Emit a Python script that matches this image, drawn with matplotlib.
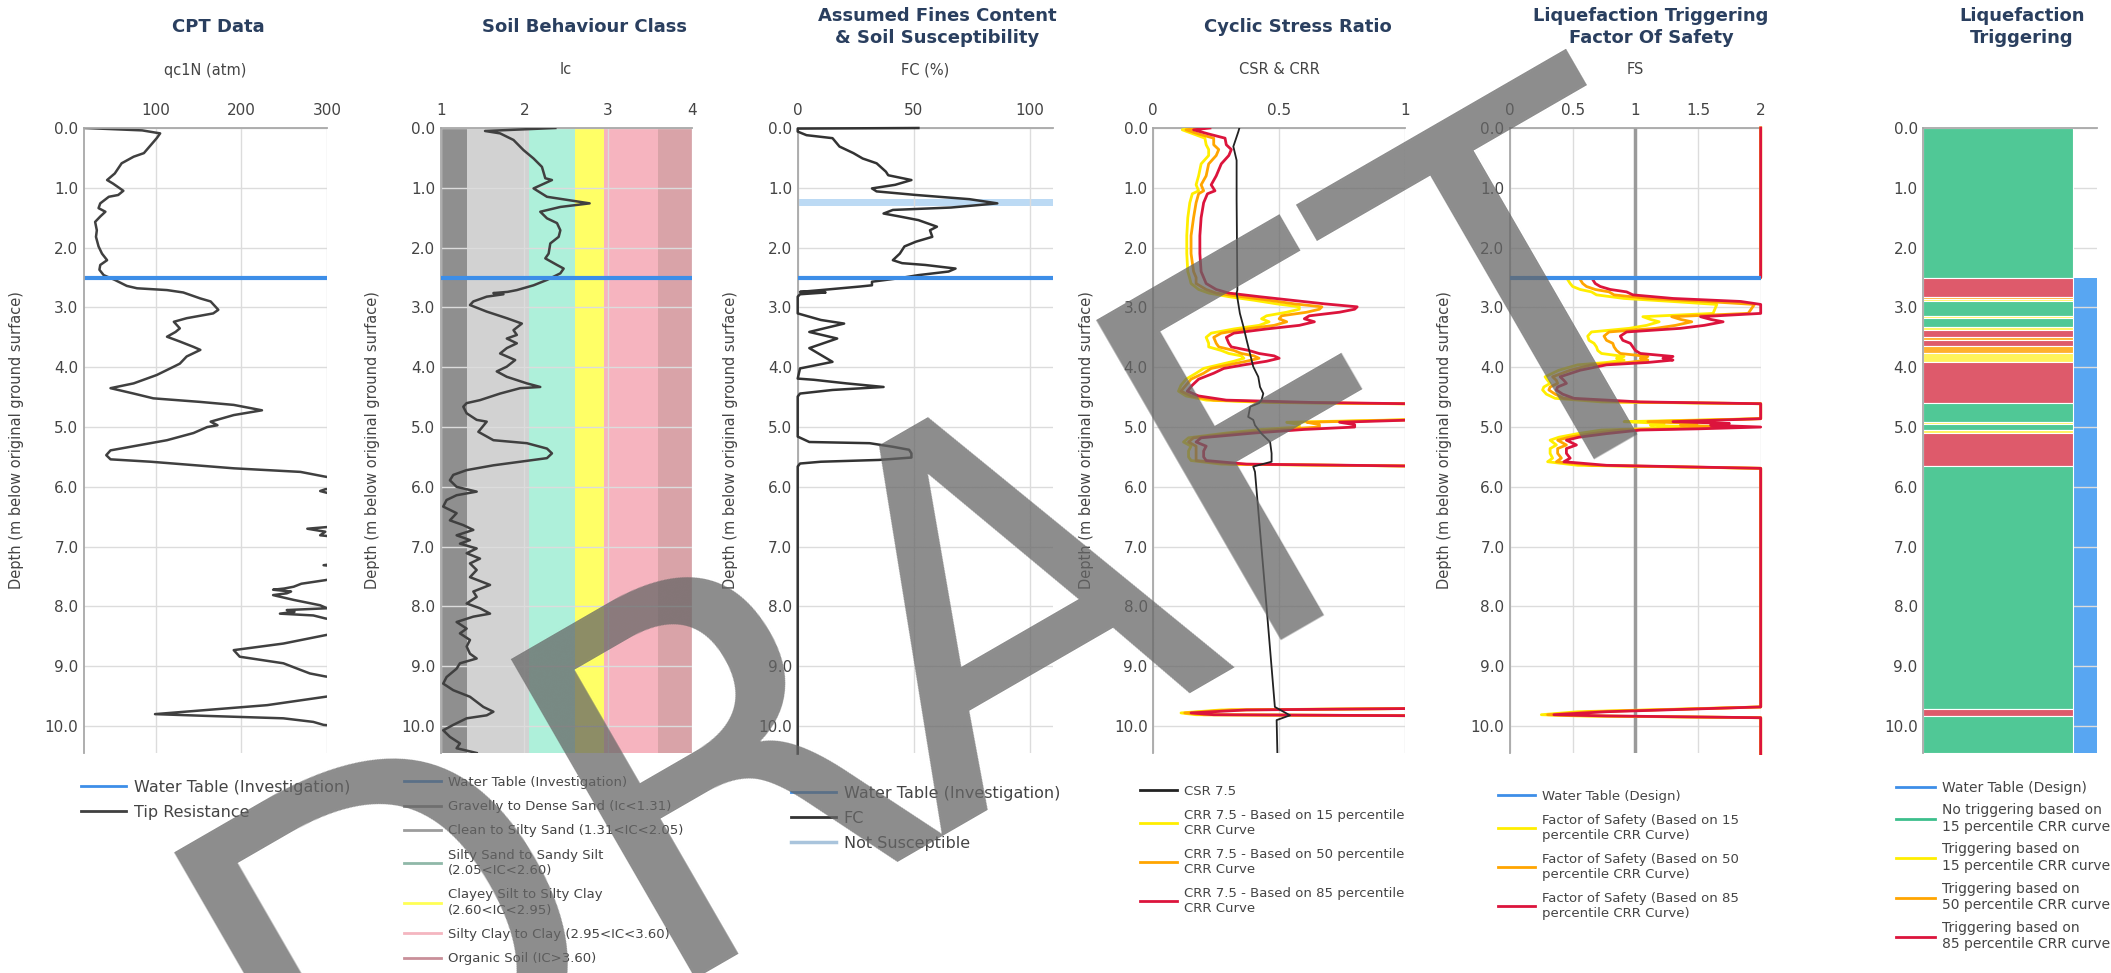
import numpy as np
import matplotlib.pyplot as plt
from matplotlib.lines import Line2D

W, H = 2111, 973
TITLE_C = '#2a3f5f'
TEXT_C = '#444444'
GRID_C = '#dcdcdc'
AXIS_C = '#a8a8a8'
WATER_C = '#3d8ee8'

# --- CPT tip resistance (normalised) ---
cpt_depth = [0.00, 0.04, 0.09, 0.17, 0.37, 0.42, 0.48, 0.59, 0.76, 0.87, 0.93, 1.05, 1.12, 1.15,
             1.26, 1.34, 1.40, 1.48, 1.57, 1.71, 1.82, 1.98, 2.10, 2.21, 2.29, 2.37, 2.46, 2.54,
             2.64, 2.68, 2.71, 2.75, 2.85, 2.90, 3.04, 3.10, 3.18, 3.24, 3.35, 3.41, 3.49, 3.57,
             3.66, 3.71, 3.82, 3.94, 3.99, 4.13, 4.27, 4.35, 4.44, 4.52, 4.58, 4.63, 4.72, 4.80,
             4.91, 4.97, 5.00, 5.10, 5.22, 5.30, 5.39, 5.47, 5.54, 5.58, 5.69, 5.75, 5.83, 5.92,
             6.00, 6.04, 6.07, 6.10, 6.18, 6.60, 6.70, 6.75, 6.81, 6.88, 7.25, 7.31, 7.36, 7.50,
             7.56, 7.62, 7.67, 7.70, 7.72, 7.75, 7.78, 7.81, 7.89, 7.98, 8.03, 8.06, 8.09, 8.12,
             8.15, 8.20, 8.28, 8.42, 8.48, 8.62, 8.73, 8.84, 8.95, 9.06, 9.12, 9.17, 9.25, 9.45,
             9.51, 9.65, 9.73, 9.80, 9.83, 9.87, 9.93, 9.98, 10.02, 10.45]
cpt_qc = [17, 84, 105, 101, 89, 86, 74, 60, 52, 43, 50, 62, 56, 45,
          35, 33, 41, 35, 29, 31, 30, 33, 37, 43, 35, 34, 39, 52,
          66, 78, 113, 132, 152, 164, 173, 167, 136, 121, 128, 123, 113, 128,
          144, 152, 136, 128, 121, 101, 74, 47, 74, 97, 152, 191, 224, 191,
          164, 172, 160, 144, 113, 82, 47, 42, 47, 94, 191, 269, 298, 340,
          330, 298, 292, 300, 350, 360, 277, 298, 292, 340, 330, 296, 330, 320,
          298, 270, 261, 250, 237, 258, 253, 237, 261, 292, 300, 253, 262, 245,
          284, 298, 330, 320, 298, 249, 191, 198, 249, 269, 280, 298, 340, 330,
          298, 230, 160, 99, 160, 249, 284, 296, 330, 340]

# --- soil behaviour type index ---
ic_depth = [0.00, 0.05, 0.09, 0.20, 0.37, 0.51, 0.65, 0.84, 0.87, 1.01, 1.15, 1.26, 1.32, 1.40,
            1.51, 1.59, 1.71, 1.82, 1.93, 2.10, 2.18, 2.29, 2.35, 2.43, 2.54, 2.63, 2.71, 2.74,
            2.76, 2.78, 2.82, 2.90, 2.96, 3.07, 3.18, 3.27, 3.38, 3.46, 3.52, 3.60, 3.68, 3.77,
            3.88, 3.99, 4.07, 4.16, 4.27, 4.33, 4.35, 4.44, 4.55, 4.60, 4.66, 4.77, 4.88, 4.91,
            5.08, 5.22, 5.27, 5.36, 5.44, 5.52, 5.58, 5.64, 5.72, 5.80, 5.89, 6.00, 6.08, 6.14,
            6.22, 6.33, 6.44, 6.56, 6.64, 6.72, 6.81, 6.89, 6.95, 7.03, 7.11, 7.20, 7.28, 7.39,
            7.51, 7.64, 7.75, 7.84, 7.95, 8.03, 8.12, 8.17, 8.26, 8.37, 8.45, 8.56, 8.67, 8.79,
            8.87, 8.95, 9.04, 9.18, 9.29, 9.40, 9.51, 9.68, 9.76, 9.82, 9.87, 9.98, 10.07, 10.18,
            10.29, 10.37, 10.45]
ic_value = [2.37, 1.53, 1.71, 1.87, 1.99, 2.11, 2.21, 2.25, 2.33, 2.11, 2.27, 2.78, 2.43, 2.19,
            2.27, 2.39, 2.43, 2.41, 2.31, 2.29, 2.25, 2.39, 2.47, 2.43, 2.27, 2.11, 1.91, 1.80,
            1.63, 1.75, 1.55, 1.39, 1.35, 1.55, 1.79, 1.97, 1.87, 1.91, 1.79, 1.91, 1.79, 1.71,
            1.89, 1.79, 1.67, 1.79, 2.03, 2.19, 1.95, 1.71, 1.47, 1.31, 1.27, 1.31, 1.43, 1.55,
            1.45, 1.63, 2.03, 2.27, 2.33, 2.27, 1.95, 1.63, 1.31, 1.15, 1.11, 1.19, 1.43, 1.19,
            1.07, 1.03, 1.19, 1.11, 1.27, 1.39, 1.19, 1.35, 1.23, 1.43, 1.31, 1.47, 1.35, 1.43,
            1.35, 1.59, 1.39, 1.43, 1.31, 1.47, 1.59, 1.39, 1.19, 1.31, 1.23, 1.35, 1.31, 1.35,
            1.43, 1.23, 1.19, 1.07, 1.03, 1.15, 1.35, 1.51, 1.63, 1.55, 1.31, 1.15, 1.03, 1.11,
            1.23, 1.19, 1.43]

ic_bounds = [1.0, 1.31, 2.05, 2.60, 2.95, 3.60, 4.0]
ic_colors = ['#8f8f8f', '#d2d2d2', '#aef0da', '#ffff66', '#f6b4bf', '#d9a3a8']
ic_labels = ['Gravelly to Dense Sand (Ic<1.31)', 'Clean to Silty Sand (1.31<IC<2.05)',
             'Silty Sand to Sandy Silt\n(2.05<IC<2.60)', 'Clayey Silt to Silty Clay\n(2.60<IC<2.95)',
             'Silty Clay to Clay (2.95<IC<3.60)', 'Organic Soil (IC>3.60)']
ic_legend_colors = ['#8a8a8a', '#9c9c9c', '#8fb8a8', '#ffff55', '#f4b6c0', '#c98f99']

# --- fines content ---
fc_depth = [0.00, 0.01, 0.06, 0.12, 0.17, 0.31, 0.42, 0.51, 0.59, 0.73, 0.79, 0.87, 0.95, 1.01,
            1.06, 1.12, 1.19, 1.26, 1.33, 1.37, 1.43, 1.48, 1.54, 1.65, 1.71, 1.82, 1.90, 1.98,
            2.10, 2.21, 2.26, 2.29, 2.35, 2.40, 2.46, 2.51, 2.57, 2.63, 2.65, 2.71, 2.74, 2.75,
            2.78, 2.82, 3.10, 3.21, 3.27, 3.41, 3.52, 3.68, 3.91, 4.02, 4.19, 4.21, 4.27, 4.33,
            4.38, 4.44, 4.49, 5.16, 5.25, 5.27, 5.33, 5.38, 5.44, 5.51, 5.55, 5.58, 5.61, 5.66,
            10.46]
fc_value = [52, 0, 0, 3.8, 15, 18, 24, 28, 34, 38, 39, 49, 42, 32,
            34, 51, 74, 86, 66, 41, 37, 44, 52, 60, 57, 58, 51, 46,
            44, 41, 45, 55, 68, 65, 52, 44, 32, 32, 27, 10, 1, 12,
            1, 0, 0, 10, 20, 5, 17, 5, 15, 1, 0, 7, 21, 37,
            15, 1, 0, 0, 5, 31, 41, 48, 49, 49, 35, 10, 1, 0,
            0]
not_susceptible = (1.19, 1.30)

# --- cyclic stress and resistance ratios ---
csr_depth = [0.00, 0.06, 0.31, 0.54, 1.20, 2.71, 2.76, 3.10, 3.32, 3.55, 3.77, 3.99, 4.16, 4.33,
             4.44, 4.55, 4.60, 4.66, 4.83, 4.88, 4.97, 5.11, 5.25, 5.44, 5.58, 5.66, 5.75, 8.01,
             9.68, 9.82, 9.90, 10.46]
csr = [0.342, 0.338, 0.318, 0.331, 0.331, 0.334, 0.331, 0.344, 0.358, 0.371, 0.384, 0.397, 0.417, 0.424,
       0.437, 0.430, 0.420, 0.385, 0.377, 0.397, 0.404, 0.430, 0.464, 0.470, 0.470, 0.397, 0.404, 0.450,
       0.483, 0.543, 0.490, 0.493]

crr_depth = [0.00, 0.03, 0.10, 0.17, 0.28, 0.36, 0.46, 0.60, 0.80, 0.95, 1.05, 1.10, 1.25, 1.50,
             1.80, 2.10, 2.40, 2.50, 2.60, 2.70, 2.76, 2.82, 2.88, 2.94, 2.99, 3.03, 3.08, 3.14,
             3.19, 3.24, 3.30, 3.36, 3.43, 3.50, 3.60, 3.66, 3.72, 3.77, 3.81, 3.85, 3.90, 3.96,
             4.02, 4.10, 4.20, 4.30, 4.40, 4.48, 4.55, 4.59, 4.62, 4.86, 4.92, 4.96, 5.00, 5.04,
             5.10, 5.18, 5.25, 5.32, 5.40, 5.50, 5.56, 5.62, 5.66, 9.70, 9.73, 9.78, 9.81, 9.83,
             10.45]
crr85 = [0.225, 0.16, 0.22, 0.285, 0.29, 0.31, 0.30, 0.27, 0.25, 0.23, 0.245, 0.215, 0.20, 0.19,
         0.185, 0.185, 0.19, 0.20, 0.21, 0.25, 0.30, 0.42, 0.55, 0.68, 0.81, 0.80, 0.74, 0.62,
         0.60, 0.64, 0.58, 0.45, 0.32, 0.29, 0.30, 0.31, 0.38, 0.42, 0.48, 0.50, 0.45, 0.36,
         0.28, 0.24, 0.18, 0.155, 0.135, 0.18, 0.29, 0.64, 1.2, 1.2, 0.74, 0.80, 0.80, 0.60,
         0.40, 0.19, 0.17, 0.21, 0.20, 0.20, 0.21, 0.37, 1.2, 1.2, 0.37, 0.15, 0.24, 1.2,
         1.2]
crr50 = [0.19, 0.13, 0.18, 0.24, 0.24, 0.26, 0.25, 0.22, 0.21, 0.19, 0.20, 0.18, 0.17, 0.16,
         0.15, 0.15, 0.16, 0.17, 0.17, 0.21, 0.25, 0.35, 0.46, 0.56, 0.67, 0.66, 0.61, 0.51,
         0.50, 0.53, 0.48, 0.37, 0.27, 0.24, 0.25, 0.26, 0.32, 0.35, 0.40, 0.42, 0.37, 0.30,
         0.23, 0.20, 0.15, 0.13, 0.11, 0.15, 0.24, 0.53, 1.2, 1.2, 0.61, 0.66, 0.66, 0.50,
         0.33, 0.16, 0.14, 0.17, 0.17, 0.17, 0.17, 0.31, 1.2, 1.2, 0.31, 0.125, 0.20, 1.2,
         1.2]
crr15 = [0.16, 0.115, 0.16, 0.205, 0.21, 0.22, 0.22, 0.19, 0.18, 0.17, 0.18, 0.155, 0.145, 0.137,
         0.133, 0.133, 0.137, 0.144, 0.15, 0.18, 0.22, 0.30, 0.40, 0.49, 0.58, 0.58, 0.53, 0.45,
         0.43, 0.46, 0.42, 0.32, 0.23, 0.21, 0.22, 0.22, 0.27, 0.30, 0.35, 0.36, 0.32, 0.26,
         0.20, 0.17, 0.13, 0.11, 0.10, 0.13, 0.21, 0.46, 1.2, 1.2, 0.53, 0.58, 0.58, 0.43,
         0.29, 0.14, 0.12, 0.15, 0.14, 0.14, 0.15, 0.27, 1.2, 1.2, 0.27, 0.11, 0.17, 1.2,
         1.2]

# --- factor of safety (capped at 2) ---
fs_depth = [0.00, 2.50, 2.50, 2.60, 2.65, 2.70, 2.74, 2.79, 2.85, 2.90, 2.95, 3.10, 3.155, 3.20,
            3.24, 3.30, 3.35, 3.41, 3.48, 3.55, 3.60, 3.66, 3.72, 3.77, 3.82, 3.85, 3.88, 3.92,
            3.96, 4.05, 4.16, 4.22, 4.27, 4.33, 4.38, 4.45, 4.52, 4.58, 4.61, 4.86, 4.91, 4.94,
            4.97, 5.00, 5.03, 5.05, 5.11, 5.17, 5.22, 5.30, 5.36, 5.44, 5.52, 5.58, 5.64, 5.69,
            9.68, 9.76, 9.81, 9.83, 9.86, 10.46]
fs85 = [2.0, 2.0, 0.65, 0.68, 0.72, 0.80, 0.93, 0.98, 1.30, 1.84, 2.0, 2.0, 1.52, 1.60,
        1.70, 1.55, 1.36, 0.93, 0.88, 0.90, 0.96, 0.98, 1.00, 1.04, 1.30, 1.22, 1.30, 1.10,
        0.77, 0.56, 0.40, 0.43, 0.45, 0.38, 0.37, 0.42, 0.51, 1.04, 2.0, 2.0, 1.30, 1.75,
        1.60, 2.0, 1.50, 1.04, 0.77, 0.55, 0.45, 0.53, 0.45, 0.45, 0.48, 0.43, 0.77, 2.0,
        2.0, 0.77, 0.35, 0.77, 2.0, 2.0]
fs50 = [2.0, 2.0, 0.55, 0.58, 0.61, 0.68, 0.79, 0.83, 1.10, 1.56, 1.95, 1.90, 1.29, 1.36,
        1.45, 1.32, 1.16, 0.79, 0.75, 0.77, 0.82, 0.83, 0.85, 0.88, 1.10, 1.04, 1.10, 0.94,
        0.65, 0.48, 0.34, 0.37, 0.38, 0.32, 0.31, 0.36, 0.43, 0.88, 2.0, 2.0, 1.10, 1.49,
        1.36, 1.80, 1.28, 0.88, 0.65, 0.47, 0.38, 0.45, 0.38, 0.38, 0.41, 0.37, 0.65, 2.0,
        2.0, 0.65, 0.30, 0.65, 2.0, 2.0]
fs15 = [2.0, 2.0, 0.45, 0.48, 0.50, 0.56, 0.65, 0.69, 0.91, 1.29, 1.65, 1.62, 1.06, 1.12,
        1.19, 1.09, 0.95, 0.65, 0.62, 0.63, 0.67, 0.69, 0.70, 0.73, 0.91, 0.85, 0.91, 0.77,
        0.54, 0.39, 0.28, 0.30, 0.32, 0.27, 0.26, 0.29, 0.36, 0.73, 2.0, 2.0, 0.91, 1.23,
        1.12, 1.48, 1.05, 0.73, 0.54, 0.39, 0.32, 0.37, 0.32, 0.32, 0.34, 0.30, 0.54, 2.0,
        2.0, 0.54, 0.25, 0.54, 2.0, 2.0]

# --- triggering layers ---
trig_top = [0.00, 2.50, 2.83, 2.86, 2.90, 3.15, 3.18, 3.33, 3.38, 3.50, 3.55, 3.65, 3.76, 3.92,
            4.60, 4.92, 4.95, 5.05, 5.10, 5.65, 9.72, 9.83]
trig_class = ['none', '85', '50', '15', 'none', '15', 'none', '15', '85', '50', '85', '50', '15', '85',
              'none', '15', 'none', '15', '85', 'none', '85', 'none']
trig_colors = {'none': '#50c896', '15': '#fff35a', '50': '#ffb02e', '85': '#de5a6b'}

water_investigation = 2.5
water_design = 2.5
depth_max = 10.45
depth_ticks = np.arange(0, 11, 1.0)

YELLOW, ORANGE, RED = '#ffee00', '#ffa500', '#dc143c'

fig = plt.figure(figsize=(W / 100, H / 100), dpi=100)


def depth_axes(left, right, xlim, xticks, xlabels):
    ax = fig.add_axes([left / W, 1 - 753 / H, (right - left) / W, (753 - 128) / H])
    ax.set_xlim(*xlim)
    ax.set_ylim(depth_max, 0)
    ax.xaxis.tick_top()
    ax.set_xticks(xticks)
    ax.set_xticklabels(xlabels)
    ax.set_yticks(depth_ticks)
    ax.set_yticklabels([f'{d:.1f}' for d in depth_ticks])
    ax.tick_params(axis='both', length=0, labelsize=11, labelcolor=TEXT_C)
    ax.tick_params(axis='x', pad=7)
    ax.tick_params(axis='y', pad=4)
    ax.grid(True, color=GRID_C, lw=1)
    ax.spines[['right', 'bottom']].set_visible(False)
    ax.spines[['top', 'left']].set_color(AXIS_C)
    ax.spines[['top', 'left']].set_linewidth(1.3)
    return ax


def headings(ax, title_x, title, subtitle=None, ylabel_x=None):
    fig.text(title_x / W, 1 - 27 / H, title, ha='center', va='center', fontsize=13,
             fontweight='bold', color=TITLE_C, linespacing=1.25)
    box = ax.get_position()
    if subtitle:
        fig.text(box.x0 + box.width / 2, 1 - 70 / H, subtitle, ha='center', va='center',
                 fontsize=10.5, color=TEXT_C)
    if ylabel_x is not None:
        fig.text(ylabel_x / W, box.y0 + box.height / 2, 'Depth (m below original ground surface)',
                 rotation=90, ha='center', va='center', fontsize=10.5, color=TEXT_C)


def panel_legend(ax, handles, labels, x, y, size, spacing):
    leg = ax.legend(handles, labels, loc='upper left', bbox_to_anchor=(x / W, 1 - y / H),
                    bbox_transform=fig.transFigure, frameon=False, fontsize=size,
                    handlelength=2.8, handletextpad=0.5, labelspacing=spacing,
                    borderpad=0, borderaxespad=0)
    for t in leg.get_texts():
        t.set_color(TEXT_C)
        t.set_linespacing(1.25)
    return leg


def line(color, lw=2):
    return Line2D([], [], color=color, lw=lw)


# CPT data
ax1 = depth_axes(84, 327, (16, 300), [100, 200, 300], ['100', '200', '300'])
ax1.plot(cpt_qc, cpt_depth, color='#404040', lw=1.8)
ax1.axhline(water_investigation, color=WATER_C, lw=3)
headings(ax1, 218, 'CPT Data', 'qc1N (atm)', 17)
panel_legend(ax1, [line(WATER_C), line('#404040')], ['Water Table (Investigation)', 'Tip Resistance'],
             81, 780, 11.5, 0.6)

# Soil behaviour class
ax2 = depth_axes(440.7, 691.7, (1, 4), [1, 2, 3, 4], ['1', '2', '3', '4'])
for lo, hi, c in zip(ic_bounds[:-1], ic_bounds[1:], ic_colors):
    ax2.axvspan(lo, hi, color=c, lw=0, zorder=0.8)
ax2.plot(ic_value, ic_depth, color='#404040', lw=1.8, zorder=3)
ax2.axhline(water_investigation, color=WATER_C, lw=3, zorder=3)
headings(ax2, 585, 'Soil Behaviour Class', 'Ic', 373)
panel_legend(ax2, [line(WATER_C)] + [line(c) for c in ic_legend_colors],
             ['Water Table (Investigation)'] + ic_labels, 404, 776, 9.5, 0.85)

# Fines content
ax3 = depth_axes(797.7, 1053, (0, 110), [0, 50, 100], ['0', '50', '100'])
ax3.axhspan(*not_susceptible, color='#bcdaf4', lw=0, zorder=1)
ax3.plot(fc_value, fc_depth, color='#333333', lw=1.8, zorder=3, clip_on=False)
ax3.axhline(water_investigation, color=WATER_C, lw=3, zorder=3)
headings(ax3, 937, 'Assumed Fines Content\n& Soil Susceptibility', 'FC (%)', 730)
panel_legend(ax3, [line(WATER_C), line('#333333'), line('#a9c4dc', 2.5)],
             ['Water Table (Investigation)', 'FC', 'Not Susceptible'], 791, 786, 11.5, 0.62)

# Cyclic stress ratio
ax4 = depth_axes(1153.3, 1405, (0, 1), [0, 0.5, 1], ['0', '0.5', '1'])
ax4.plot(csr, csr_depth, color='#222222', lw=1.3, zorder=4)
ax4.plot(crr15, crr_depth, color=YELLOW, lw=2, zorder=3)
ax4.plot(crr50, crr_depth, color=ORANGE, lw=2, zorder=3)
ax4.plot(crr85, crr_depth, color=RED, lw=2, zorder=3)
headings(ax4, 1298, 'Cyclic Stress Ratio', 'CSR & CRR', 1087)
panel_legend(ax4, [line('#222222'), line(YELLOW), line(ORANGE), line(RED)],
             ['CSR 7.5', 'CRR 7.5 - Based on 15 percentile\nCRR Curve',
              'CRR 7.5 - Based on 50 percentile\nCRR Curve',
              'CRR 7.5 - Based on 85 percentile\nCRR Curve'], 1140, 785, 9.5, 0.8)

# Factor of safety
ax5 = depth_axes(1510, 1760.7, (0, 2), [0, 0.5, 1, 1.5, 2], ['0', '0.5', '1', '1.5', '2'])
ax5.axvline(1, color='#9a9a9a', lw=2.5, zorder=1.6)
ax5.plot(fs15, fs_depth, color=YELLOW, lw=2, zorder=3, clip_on=False)
ax5.plot(fs50, fs_depth, color=ORANGE, lw=2, zorder=3, clip_on=False)
ax5.plot(fs85, fs_depth, color=RED, lw=2, zorder=3, clip_on=False)
ax5.axhline(water_design, color=WATER_C, lw=3, zorder=4)
headings(ax5, 1651, 'Liquefaction Triggering\nFactor Of Safety', 'FS', 1444)
panel_legend(ax5, [line(WATER_C), line(YELLOW), line(ORANGE), line(RED)],
             ['Water Table (Design)', 'Factor of Safety (Based on 15\npercentile CRR Curve)',
              'Factor of Safety (Based on 50\npercentile CRR Curve)',
              'Factor of Safety (Based on 85\npercentile CRR Curve)'], 1498, 790, 9.5, 0.8)

# Triggering summary column
ax6 = depth_axes(1923.3, 2096.7, (0, 1), [], [])
ax6.grid(axis='x', visible=False)
trig_bottom = trig_top[1:] + [depth_max]
for top, bot, cls in zip(trig_top, trig_bottom, trig_class):
    ax6.barh((top + bot) / 2, 0.865, height=bot - top, left=0, color=trig_colors[cls],
             edgecolor='white', lw=0.8, zorder=2)
ax6.barh((water_design + depth_max) / 2, 0.135, height=depth_max - water_design, left=0.865,
         color='#58a6f2', lw=0, zorder=1)
headings(ax6, 2022, 'Liquefaction\nTriggering')
panel_legend(ax6, [line(WATER_C), line('#3cbf8c'), line(YELLOW), line(ORANGE), line(RED)],
             ['Water Table (Design)', 'No triggering based on\n15 percentile CRR curve',
              'Triggering based on\n15 percentile CRR curve',
              'Triggering based on\n50 percentile CRR curve',
              'Triggering based on\n85 percentile CRR curve'], 1896, 781, 10, 0.6)

# watermark
fig.text(957 / W, 1 - 638 / H, 'DRAFT', fontsize=364, rotation=30,
         color='#666666', alpha=0.75, ha='center', va='center', zorder=100)

fig.savefig('out.png', dpi=100, facecolor='white')
